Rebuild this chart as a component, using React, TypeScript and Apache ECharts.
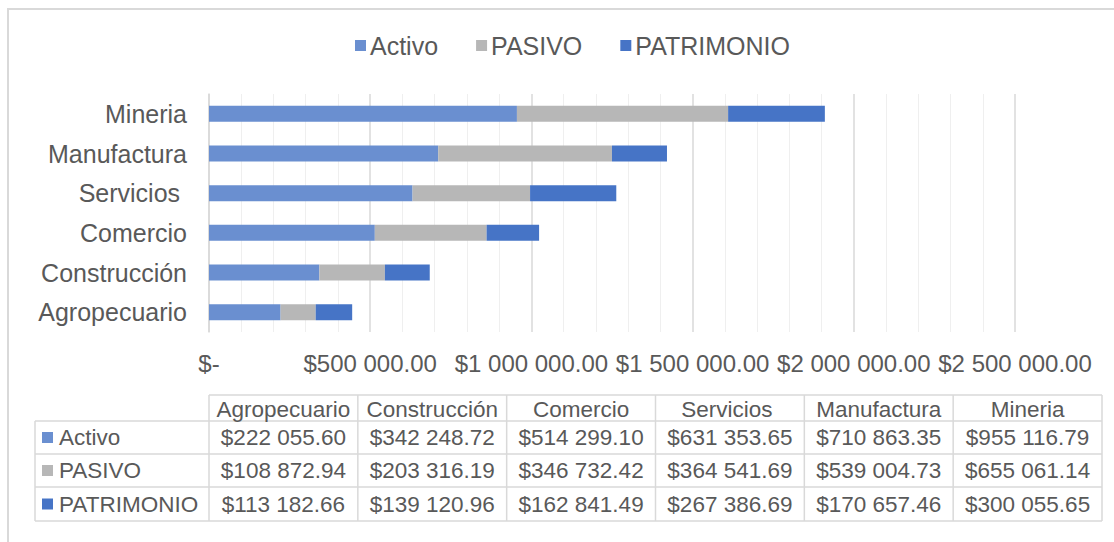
import React, { useEffect, useRef } from "react";
import * as echarts from "echarts";

const categories = ["Agropecuario", "Construcción", "Comercio", "Servicios ", "Manufactura", "Mineria"];
const seriesNames = ["Activo", "PASIVO", "PATRIMONIO"];
const activo = [222055.6, 342248.72, 514299.1, 631353.65, 710863.35, 955116.79];
const pasivo = [108872.94, 203316.19, 346732.42, 364541.69, 539004.73, 655061.14];
const patrimonio = [113182.66, 139120.96, 162841.49, 267386.69, 170657.46, 300055.65];
const xMin = 0;
const xMax = 2500000;
const xInterval = 500000;

const colors = ["#6A8FD0", "#B7B7B7", "#4674C6"];
const TEXT = "#595959";
const LINE = "#D9D9D9";
const FONT = "'Liberation Sans', Arial, sans-serif";

function money(v: number): string {
  const [i, d] = v.toFixed(2).split(".");
  return "$" + i.replace(/\B(?=(\d{3})+(?!\d))/g, " ") + "." + d;
}

export default function App() {
  const ref = useRef<HTMLDivElement>(null);
  useEffect(() => {
    if (!ref.current) return;
    const chart = echarts.init(ref.current, undefined, { renderer: "svg" });
    const allData = [activo, pasivo, patrimonio];

    // data table built from the arrays
    const tLeft = 35, tKey = 209, tRight = 1102;
    const rowY = [395, 421, 454, 487, 521];
    const colW = (tRight - tKey) / categories.length;
    const tFont = `22.5px ${FONT}`;
    const g: any[] = [];
    const ls = { stroke: LINE, lineWidth: 1.5 };
    g.push({ type: "rect", shape: { x: 8, y: 9, width: 1300, height: 700 }, style: { fill: "none", stroke: LINE, lineWidth: 2 }, silent: true });
    g.push({ type: "line", shape: { x1: tKey, y1: rowY[0], x2: tRight, y2: rowY[0] }, style: ls });
    for (let r = 1; r < rowY.length; r++) {
      g.push({ type: "line", shape: { x1: tLeft, y1: rowY[r], x2: tRight, y2: rowY[r] }, style: ls });
    }
    g.push({ type: "line", shape: { x1: tLeft, y1: rowY[1], x2: tLeft, y2: rowY[4] }, style: ls });
    for (let c = 0; c <= categories.length; c++) {
      const x = tKey + c * colW;
      g.push({ type: "line", shape: { x1: x, y1: rowY[0], x2: x, y2: rowY[4] }, style: ls });
    }
    categories.forEach((cat, c) => {
      g.push({
        type: "text", x: tKey + (c + 0.5) * colW, y: (rowY[0] + rowY[1]) / 2 + 1,
        style: { text: cat, fill: TEXT, font: tFont, textAlign: "center", textVerticalAlign: "middle" },
      });
    });
    seriesNames.forEach((name, r) => {
      const cy = (rowY[r + 1] + rowY[r + 2]) / 2;
      g.push({ type: "rect", shape: { x: 42, y: cy - 5.5, width: 11, height: 11 }, style: { fill: colors[r] } });
      g.push({
        type: "text", x: 59, y: cy,
        style: { text: name, fill: TEXT, font: tFont, textAlign: "left", textVerticalAlign: "middle" },
      });
      allData[r].forEach((v, c) => {
        g.push({
          type: "text", x: tKey + (c + 0.5) * colW, y: cy,
          style: { text: money(v), fill: TEXT, font: tFont, textAlign: "center", textVerticalAlign: "middle" },
        });
      });
    });

    chart.setOption({
      animation: false,
      textStyle: { fontFamily: FONT },
      legend: {
        data: seriesNames,
        left: 350,
        top: 28,
        icon: "rect",
        itemWidth: 11,
        itemHeight: 11,
        itemGap: 38,
        textStyle: { color: TEXT, fontSize: 25, fontFamily: FONT, padding: [0, 0, 0, -1] },
      },
      grid: { left: 209, right: 99, top: 94, bottom: 210, containLabel: false },
      xAxis: {
        type: "value",
        min: xMin,
        max: xMax,
        interval: xInterval,
        axisLine: { show: false },
        axisTick: { show: false },
        splitLine: { show: true, lineStyle: { color: LINE, width: 1.5 } },
        minorTick: { show: false, splitNumber: 5 },
        minorSplitLine: { show: true, lineStyle: { color: "#EFEFEF", width: 1 } },
        axisLabel: {
          color: TEXT,
          fontSize: 24,
          fontFamily: FONT,
          margin: 19,
          formatter: (v: number) => (v === 0 ? "$-" : money(v)),
        },
      },
      yAxis: {
        type: "category",
        data: categories,
        axisLine: { show: true, lineStyle: { color: LINE, width: 1.5 } },
        axisTick: { show: false },
        axisLabel: { color: TEXT, fontSize: 25, fontFamily: FONT, margin: 22 },
      },
      series: seriesNames.map((name, i) => ({
        name,
        type: "bar",
        stack: "total",
        barWidth: 16,
        data: allData[i],
        itemStyle: { color: colors[i] },
      })),
      graphic: g,
    });
    return () => chart.dispose();
  }, []);
  return (
    <div
      ref={ref}
      style={{ position: "absolute", left: 0, top: 0, width: 1114, height: 542, background: "#fff" }}
    />
  );
}
